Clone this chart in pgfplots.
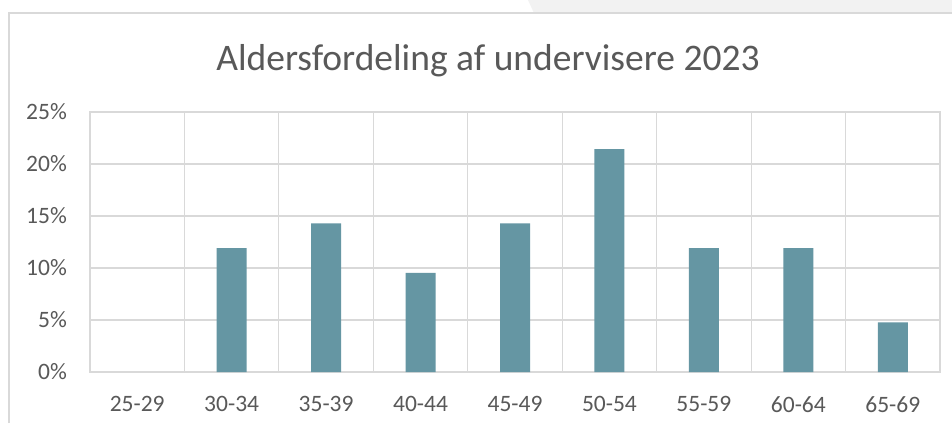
\documentclass[border=0pt]{standalone}
\usepackage{pgfplots}
\pgfplotsset{compat=1.18}
\usepackage{fontspec}
\setmainfont{Carlito}
\definecolor{barc}{HTML}{6596A3}
\definecolor{gridc}{HTML}{D9D9D9}
\definecolor{txt}{HTML}{595959}
\definecolor{bgc}{HTML}{F2F2F2}
\begin{document}
\begin{tikzpicture}[x=1pt,y=1pt]
\useasboundingbox (0,0) rectangle (952,423);
\fill[white] (0,0) rectangle (952,423);
\fill[bgc] (528,423) -- (952,423) -- (952,410) -- (534,410) -- cycle;
\draw[gridc, line width=1.5pt] (9,0) -- (9,410) -- (952,410);
\node[txt, font=\fontsize{37.5}{42}\selectfont] at (488,362) {Aldersfordeling af undervisere 2023};
\begin{axis}[
  at={(90pt,51pt)}, anchor=south west,
  scale only axis, width=850pt, height=260pt,
  ybar, bar width=30pt,
  xmin=-0.5, xmax=8.5, ymin=0, ymax=25,
  xtick={0,...,8},
  xticklabels={25-29,30-34,35-39,40-44,45-49,50-54,55-59,60-64,65-69},
  minor xtick={-0.5,0.5,...,8.5},
  ytick={0,5,10,15,20,25},
  yticklabels={0\%,5\%,10\%,15\%,20\%,25\%},
  major tick length=0, minor tick length=0,
  xmajorgrids=false, xminorgrids=true, ymajorgrids=true,
  grid style={gridc, line width=1.2pt},
  minor grid style={gridc, line width=1.2pt},
  axis line style={gridc, line width=1.2pt},
  tick label style={txt, font=\fontsize{23.5}{28}\selectfont},
  xticklabel style={anchor=north, inner sep=0pt, yshift=-24pt},
  yticklabel style={anchor=east, inner sep=0pt, xshift=-23pt},
]
\addplot[fill=barc, draw=none] coordinates {
(1,11.90) (2,14.29) (3,9.52) (4,14.29) (5,21.43) (6,11.90) (7,11.90) (8,4.76)};
\end{axis}
\end{tikzpicture}
\end{document}
